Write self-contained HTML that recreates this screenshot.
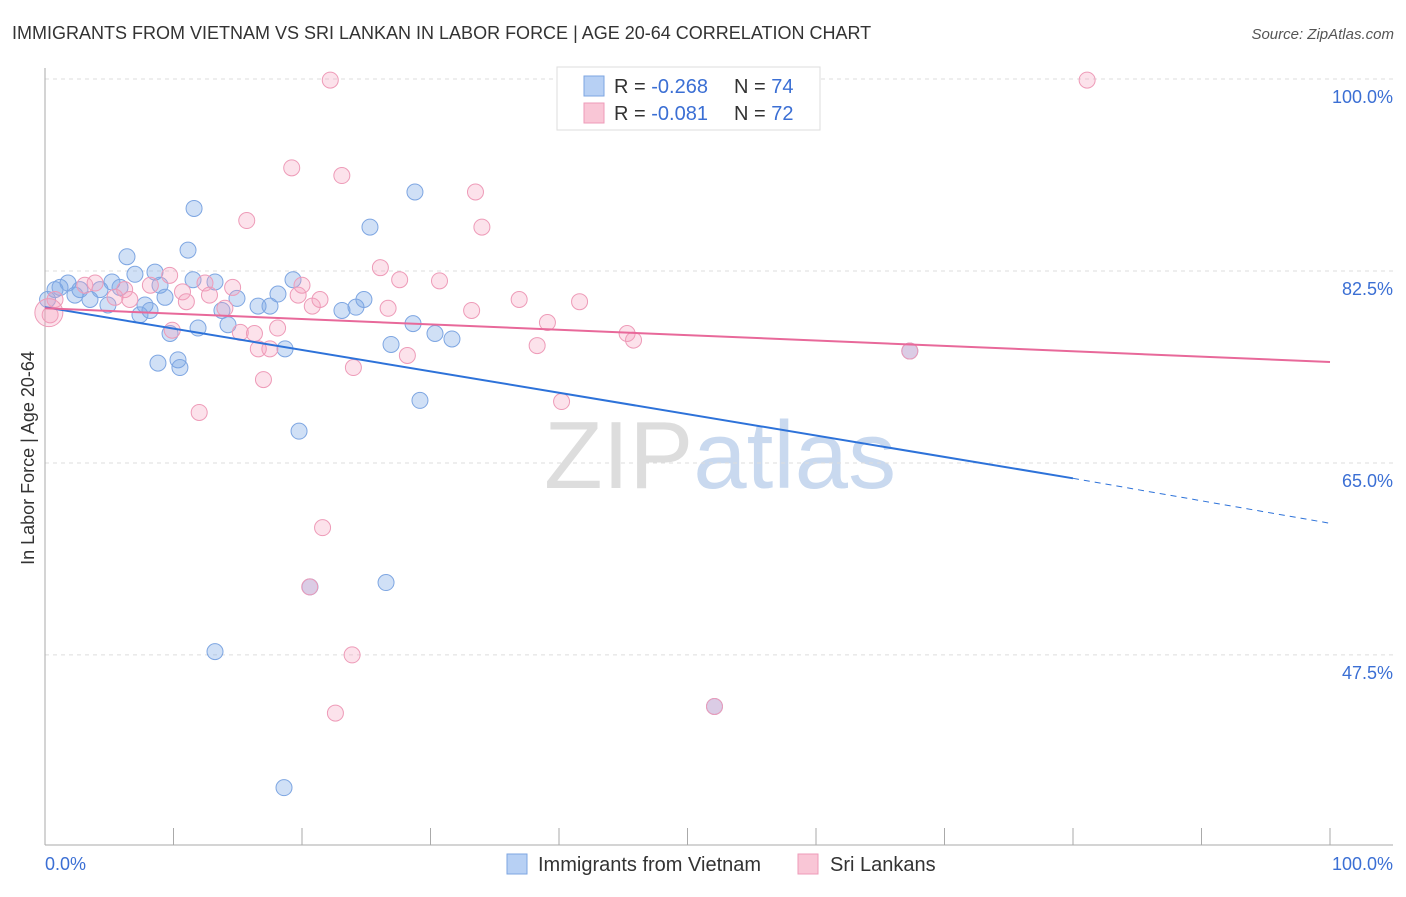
<!DOCTYPE html>
<html><head><meta charset="utf-8"><style>
body{margin:0;background:#fff;font-family:"Liberation Sans",sans-serif}
svg text{font-family:"Liberation Sans",sans-serif}
</style></head><body>
<svg id="chart" width="1406" height="892" xmlns="http://www.w3.org/2000/svg">
<text x="12" y="39" font-size="18" fill="#333">IMMIGRANTS FROM VIETNAM VS SRI LANKAN IN LABOR FORCE | AGE 20-64 CORRELATION CHART</text>
<text x="1394" y="39" font-size="15" fill="#555" font-style="italic" text-anchor="end">Source: ZipAtlas.com</text>
<text x="720" y="488" font-size="96" text-anchor="middle" fill="#ddd" font-family="Liberation Serif">ZIP<tspan fill="#c9d9ef" font-family="Liberation Sans">atlas</tspan></text>
<text transform="translate(34,458) rotate(-90)" font-size="18" fill="#333" text-anchor="middle">In Labor Force | Age 20-64</text>
<g id="grid"></g><g id="marks"></g><g id="lines"></g>
<g>
<rect x="557" y="67" width="263" height="63" fill="#fff" stroke="#ddd"/>
<rect x="584" y="76" width="20" height="20" fill="#b7d0f4" stroke="#7ea6e2"/>
<rect x="584" y="103" width="20" height="20" fill="#f9c6d6" stroke="#ee9bb8"/>
<text x="614" y="93" font-size="20" fill="#333">R = <tspan fill="#3b6fd4">-0.268</tspan><tspan x="734">N = </tspan><tspan fill="#3b6fd4">74</tspan></text>
<text x="614" y="120" font-size="20" fill="#333">R = <tspan fill="#3b6fd4">-0.081</tspan><tspan x="734">N = </tspan><tspan fill="#3b6fd4">72</tspan></text>
</g>
<g>
<rect x="507" y="854" width="20" height="20" fill="#b7d0f4" stroke="#7ea6e2"/>
<text x="538" y="871" font-size="20" fill="#333">Immigrants from Vietnam</text>
<rect x="798" y="854" width="20" height="20" fill="#f9c6d6" stroke="#ee9bb8"/>
<text x="830" y="871" font-size="20" fill="#333">Sri Lankans</text>
</g>
<text x="45" y="870" font-size="18" fill="#3b6fd4">0.0%</text>
<text x="1393" y="870" font-size="18" fill="#3b6fd4" text-anchor="end">100.0%</text>
</svg>
<script>
const yTicks=[100,82.5,65,47.5];
const yTickLabels=["100.0%","82.5%","65.0%","47.5%"];
const xTicks=[0,10,20,30,40,50,60,70,80,90,100];
const blueX=[0.2,0.78,1.17,1.79,2.33,2.72,3.5,4.28,4.9,5.21,5.84,6.38,7.0,7.39,7.78,8.17,8.56,8.95,9.34,9.73,8.79,10.35,10.5,11.13,11.6,11.52,11.91,13.23,13.77,14.24,14.94,16.58,17.51,18.13,18.68,19.3,19.77,20.62,18.6,13.23,23.11,24.2,24.82,25.29,26.93,26.54,28.64,28.79,29.18,30.35,31.67,67.3,52.1,43.2];
const blueY=[79.9,80.8,81.0,81.4,80.3,80.8,79.9,80.8,79.4,81.5,81.0,83.8,82.2,78.5,79.4,78.9,82.4,81.2,80.1,76.8,74.1,74.4,73.7,84.4,88.2,81.7,77.3,81.5,78.9,77.6,80.0,79.3,79.3,80.4,75.4,81.7,67.9,53.7,35.4,47.8,78.9,79.2,79.9,86.5,75.8,54.1,77.7,89.7,70.7,76.8,76.3,75.2,42.8,99.9];
const pinkX=[0.4,0.78,3.1,3.9,5.45,6.2,6.6,8.2,9.7,9.9,10.7,11.0,12.0,12.45,12.8,14.0,14.6,15.7,15.2,16.3,16.6,17.0,17.5,18.1,19.2,19.7,20.0,20.8,21.4,21.6,22.2,22.6,23.1,23.9,24.0,26.1,26.7,27.6,28.2,30.7,33.2,33.5,34.0,36.9,38.3,39.1,40.2,41.6,45.3,45.8,67.3,81.1,20.6,52.1];
const pinkY=[78.5,79.9,81.2,81.4,80.1,80.8,79.9,81.2,82.1,77.1,80.6,79.7,69.6,81.4,80.3,79.1,81.0,87.1,76.9,76.8,75.4,72.6,75.4,77.3,91.9,80.3,81.2,79.3,79.9,59.1,99.9,42.2,91.2,47.5,73.7,82.8,79.1,81.7,74.8,81.6,78.9,89.7,86.5,79.9,75.7,77.8,70.6,79.7,76.8,76.2,75.2,99.9,53.7,42.8];
const blueTrend=[79.2,63.6,59.5];
const pinkTrend=[79.1,74.2];
const NS="http://www.w3.org/2000/svg";
const X=v=>45+v*12.85, Y=v=>79+(100-v)*10.97;
function mk(t,a,p){const e=document.createElementNS(NS,t);for(const k in a)e.setAttribute(k,a[k]);p.appendChild(e);return e;}
const grid=document.getElementById('grid'),marks=document.getElementById('marks'),lines=document.getElementById('lines');
yTicks.forEach((t,i)=>{
 const l=mk('line',{x1:45,x2:1393,y1:Y(t),y2:Y(t),stroke:'#ddd','stroke-dasharray':'4,4'},grid);
 
 
 const tx=mk('text',{x:1393,y:Y(t)+24,'font-size':18,fill:'#3b6fd4','text-anchor':'end'},grid);
 tx.textContent=yTickLabels[i];
 
 
});
mk('line',{x1:45,x2:45,y1:68,y2:845,stroke:'#aaa'},grid);
mk('line',{x1:45,x2:1393,y1:845,y2:845,stroke:'#aaa'},grid);
xTicks.forEach(t=>{const l=mk('line',{x1:X(t),x2:X(t),y1:828,y2:845,stroke:'#aaa'},grid);
 
 });
function pts(xs,ys,fill,stroke,name){xs.forEach((x,i)=>{const c=mk('circle',{cx:X(x),cy:Y(ys[i]),r:8,fill:fill,stroke:stroke,'stroke-width':1},marks);
 
 });}
pts(blueX,blueY,'rgba(120,165,230,0.35)','#7ea6e2','vietnam-point');
pts(pinkX,pinkY,'rgba(245,160,190,0.3)','#ee9bb8','srilanka-point');
const big=mk('circle',{cx:X(0.3),cy:Y(78.7),r:14,fill:'rgba(245,160,190,0.3)',stroke:'#ee9bb8'},marks);


const b1=mk('line',{x1:X(0),y1:Y(blueTrend[0]),x2:X(80),y2:Y(blueTrend[1]),stroke:'#2d72d9','stroke-width':2},lines);


const b2=mk('line',{x1:X(80),y1:Y(blueTrend[1]),x2:X(100),y2:Y(blueTrend[2]),stroke:'#2d72d9','stroke-width':1,'stroke-dasharray':'6,5'},lines);


const p1=mk('line',{x1:X(0),y1:Y(pinkTrend[0]),x2:X(100),y2:Y(pinkTrend[1]),stroke:'#e8699a','stroke-width':2},lines);


</script>
</body></html>
